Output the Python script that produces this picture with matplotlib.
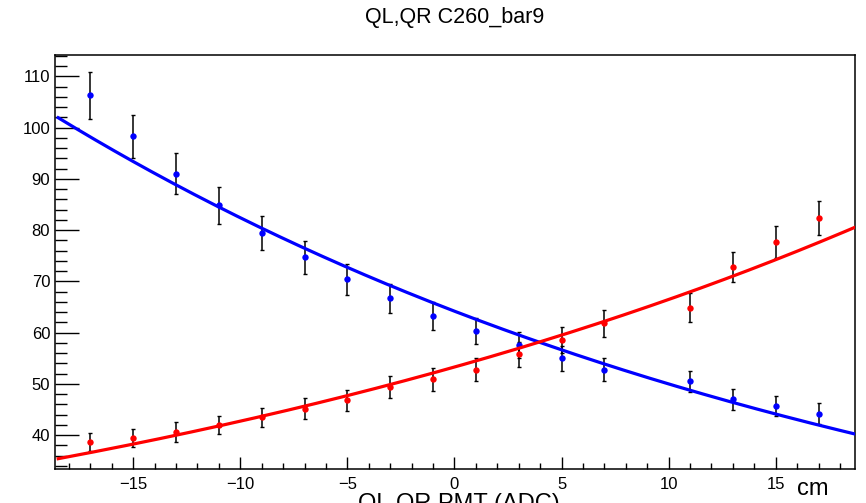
import numpy as np
import matplotlib
matplotlib.use("Agg")
import matplotlib.pyplot as plt
import matplotlib.ticker as mticker

plt.rcParams["font.family"] = ["Liberation Sans", "DejaVu Sans"]

# ====== DATA ======
pos_cm = [-17, -15, -13, -11, -9, -7, -5, -3, -1, 1, 3, 5, 7, 11, 13, 15, 17]

ql = [106.3, 98.3, 91.0, 84.9, 79.5, 74.7, 70.4, 66.7, 63.3, 60.3, 57.6, 55.0, 52.8, 50.5, 47.0, 45.7, 44.2]
ql_err = [4.5, 4.2, 4.0, 3.6, 3.3, 3.2, 3.0, 2.8, 2.7, 2.6, 2.5, 2.4, 2.3, 2.0, 2.0, 2.0, 2.0]

qr = [38.7, 39.5, 40.6, 42.0, 43.5, 45.2, 46.8, 49.4, 50.9, 52.8, 55.8, 58.6, 61.8, 64.9, 72.8, 77.7, 82.4]
qr_err = [1.8, 1.8, 1.9, 1.8, 1.9, 2.0, 2.0, 2.1, 2.2, 2.3, 2.4, 2.5, 2.6, 2.8, 3.0, 3.2, 3.3]

# expo fit parameters: f(x) = exp(p0 + p1*x)
fit_ql = (np.log(64.2), -0.0250)
fit_qr = (np.log(53.3), 0.0221)

X_RANGE = (-18.65, 18.7)
Y_RANGE = (33.4, 114.2)


def expo(p, x):
    return np.exp(p[0] + p[1] * x)


fig = plt.figure(figsize=(8.66, 5.03), dpi=100)
ax = fig.add_axes([0.0635, 0.0676, 0.9238, 0.8231])

xf = np.linspace(-18.5, X_RANGE[1], 300)

for y, e, p, col in [(ql, ql_err, fit_ql, "#0000ff"), (qr, qr_err, fit_qr, "#ff0000")]:
    ax.errorbar(pos_cm, y, yerr=e, fmt="none", ecolor="black", elinewidth=1.1,
                capsize=1.3, capthick=1.0, zorder=2)
    ax.plot(pos_cm, y, "o", color=col, markersize=4.6, markeredgewidth=0, zorder=3)
    ax.plot(xf, expo(p, xf), color=col, linewidth=2.3, zorder=4)

ax.set_xlim(*X_RANGE)
ax.set_ylim(*Y_RANGE)

ax.xaxis.set_major_locator(mticker.MultipleLocator(5))
ax.xaxis.set_minor_locator(mticker.MultipleLocator(1))
ax.yaxis.set_major_locator(mticker.MultipleLocator(10))
ax.yaxis.set_minor_locator(mticker.MultipleLocator(2))

ax.tick_params(axis="x", which="major", direction="in", length=8.6, width=1.0, pad=6, labelsize=12)
ax.tick_params(axis="x", which="minor", direction="in", length=4.3, width=1.0)
ax.tick_params(axis="y", which="major", direction="in", length=17.3, width=1.0, pad=3.5, labelsize=12)
ax.tick_params(axis="y", which="minor", direction="in", length=8.6, width=1.0)

for s in ax.spines.values():
    s.set_linewidth(1.1)

fig.text(0.5255, 0.965, "QL,QR C260_bar9", ha="center", va="center", fontsize=15.5)
fig.text(0.957, 0.006, "cm", ha="right", va="bottom", fontsize=17)
fig.text(0.53, 0.019, "QL,QR PMT (ADC)", ha="center", va="top", fontsize=17)

fig.savefig("out.png", dpi=100)
